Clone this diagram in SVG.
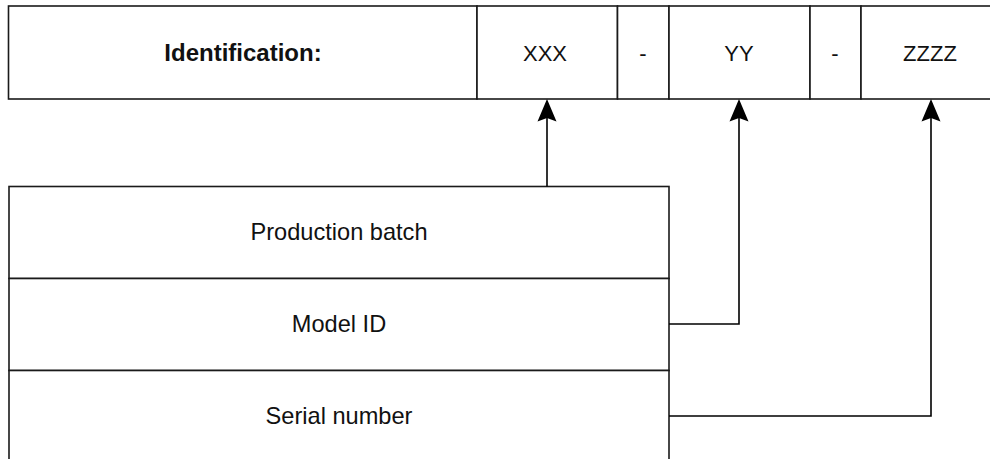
<svg xmlns="http://www.w3.org/2000/svg" width="990" height="459" viewBox="0 0 990 459">
<defs>
<style>
.cell{fill:#fff;stroke:#1a1a1a;stroke-width:1.6}
.t{font-family:"Liberation Sans",Arial,sans-serif;font-size:22px;fill:#111;text-anchor:middle}
.b{font-weight:bold;font-size:24px}
.l{font-size:23.6px}
.c{fill:none;stroke:#000;stroke-width:1.6}
</style>
</defs>
<rect width="990" height="459" fill="#fff"/>
<g id="id-label"><rect class="cell" x="8.5" y="6" width="468.5" height="93"/><text class="t b" x="243" y="61">Identification:</text></g>
<g id="xxx"><rect class="cell" x="477" y="6" width="140.5" height="93"/><text class="t" x="545" y="61">XXX</text></g>
<g id="dash1"><rect class="cell" x="617.5" y="6" width="51.5" height="93"/><text class="t" x="643" y="61">-</text></g>
<g id="yy"><rect class="cell" x="669" y="6" width="141" height="93"/><text class="t" x="739" y="61">YY</text></g>
<g id="dash2"><rect class="cell" x="810" y="6" width="51" height="93"/><text class="t" x="835" y="61">-</text></g>
<g id="zzzz"><rect class="cell" x="861" y="6" width="140" height="93"/><text class="t" x="930" y="61">ZZZZ</text></g>
<g id="production-batch"><rect class="cell" x="9" y="186.5" width="660" height="92"/><text class="t l" x="339" y="240">Production batch</text></g>
<g id="model-id"><rect class="cell" x="9" y="278.5" width="660" height="92"/><text class="t l" x="339" y="332">Model ID</text></g>
<g id="serial-number"><rect class="cell" x="9" y="370.5" width="660" height="100"/><text class="t l" x="339" y="424">Serial number</text></g>
<g id="connectors">
<path class="c" d="M547,186.5 V118"/>
<path d="M547,99 L556.5,121.5 L547,118 L537.5,121.5 Z" fill="#000"/>
<path class="c" d="M669,324 H739 V118"/>
<path d="M739,99 L748.5,121.5 L739,118 L729.5,121.5 Z" fill="#000"/>
<path class="c" d="M669,416 H931 V118"/>
<path d="M931,99 L940.5,121.5 L931,118 L921.5,121.5 Z" fill="#000"/>
</g>
</svg>
